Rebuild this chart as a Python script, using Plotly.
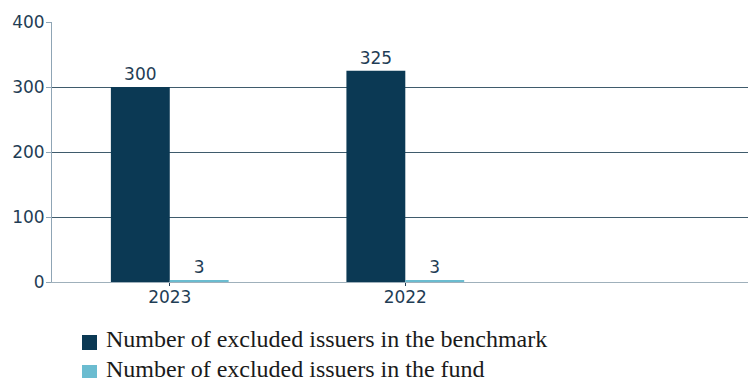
import plotly.graph_objects as go

years = ["2023", "2022"]
benchmark = [300, 325]
fund = [3, 3]
series_names = ["Number of excluded issuers in the benchmark",
                "Number of excluded issuers in the fund"]
series_colors = ["#0b3954", "#6bbcd0"]
y_ticks = [0, 100, 200, 300, 400]

W, H = 749, 378
M_L, M_R, M_T, M_B = 52, 1, 22, 96
PLOT_W = W - M_L - M_R
PLOT_H = H - M_T - M_B

tick_font = dict(family="DejaVu Sans, Verdana, sans-serif", size=17, color="#1f3d55")
legend_font = dict(family="Liberation Serif, Times New Roman, serif", size=24, color="#1a1a1a")


def px_to_paper_x(px):
    return (px - M_L) / PLOT_W


def px_to_paper_y(py):
    return (H - M_B - py) / PLOT_H


fig = go.Figure()
for name, values, color in zip(series_names, [benchmark, fund], series_colors):
    fig.add_trace(go.Bar(
        x=years, y=values, name=name,
        marker=dict(color=color, line=dict(width=0)),
        text=[str(v) for v in values], textposition="outside",
        textfont=tick_font, cliponaxis=False, showlegend=False,
    ))

# Legend below the plot: coloured squares with serif labels
for i, (name, color) in enumerate(zip(series_names, series_colors)):
    top = 335 + 30 * i
    fig.add_shape(
        type="rect", xref="paper", yref="paper",
        x0=px_to_paper_x(82), x1=px_to_paper_x(97),
        y0=px_to_paper_y(top), y1=px_to_paper_y(top + 15),
        fillcolor=color, line=dict(width=0),
    )
    fig.add_annotation(
        x=px_to_paper_x(104), y=px_to_paper_y(top + 4),
        xref="paper", yref="paper", xanchor="left", yanchor="middle",
        text=name, showarrow=False, font=legend_font,
    )

fig.update_layout(
    width=W, height=H,
    margin=dict(l=M_L, r=M_R, t=M_T, b=M_B, autoexpand=False),
    paper_bgcolor="white", plot_bgcolor="white",
    barmode="group", bargap=0.5, bargroupgap=0,
    showlegend=False,
)
fig.update_xaxes(
    type="category", range=[-0.5, 2.455],
    showgrid=False, showline=True, linecolor="#9fb0bb", linewidth=1,
    ticks="outside", ticklen=3, tickcolor="#1f3d55", ticklabelstandoff=-3,
    tickfont=tick_font, fixedrange=True,
)
fig.update_yaxes(
    range=[0, 400], tickvals=y_ticks,
    showgrid=True, gridcolor="#3f5b6c", gridwidth=1,
    zeroline=True, zerolinecolor="#9fb0bb", zerolinewidth=1,
    showline=True, linecolor="#8fa5b5", linewidth=1,
    ticks="outside", ticklen=5, tickcolor="#8fa5b5", ticklabelstandoff=-2,
    tickfont=tick_font, fixedrange=True,
)

fig.write_html("out.html")
